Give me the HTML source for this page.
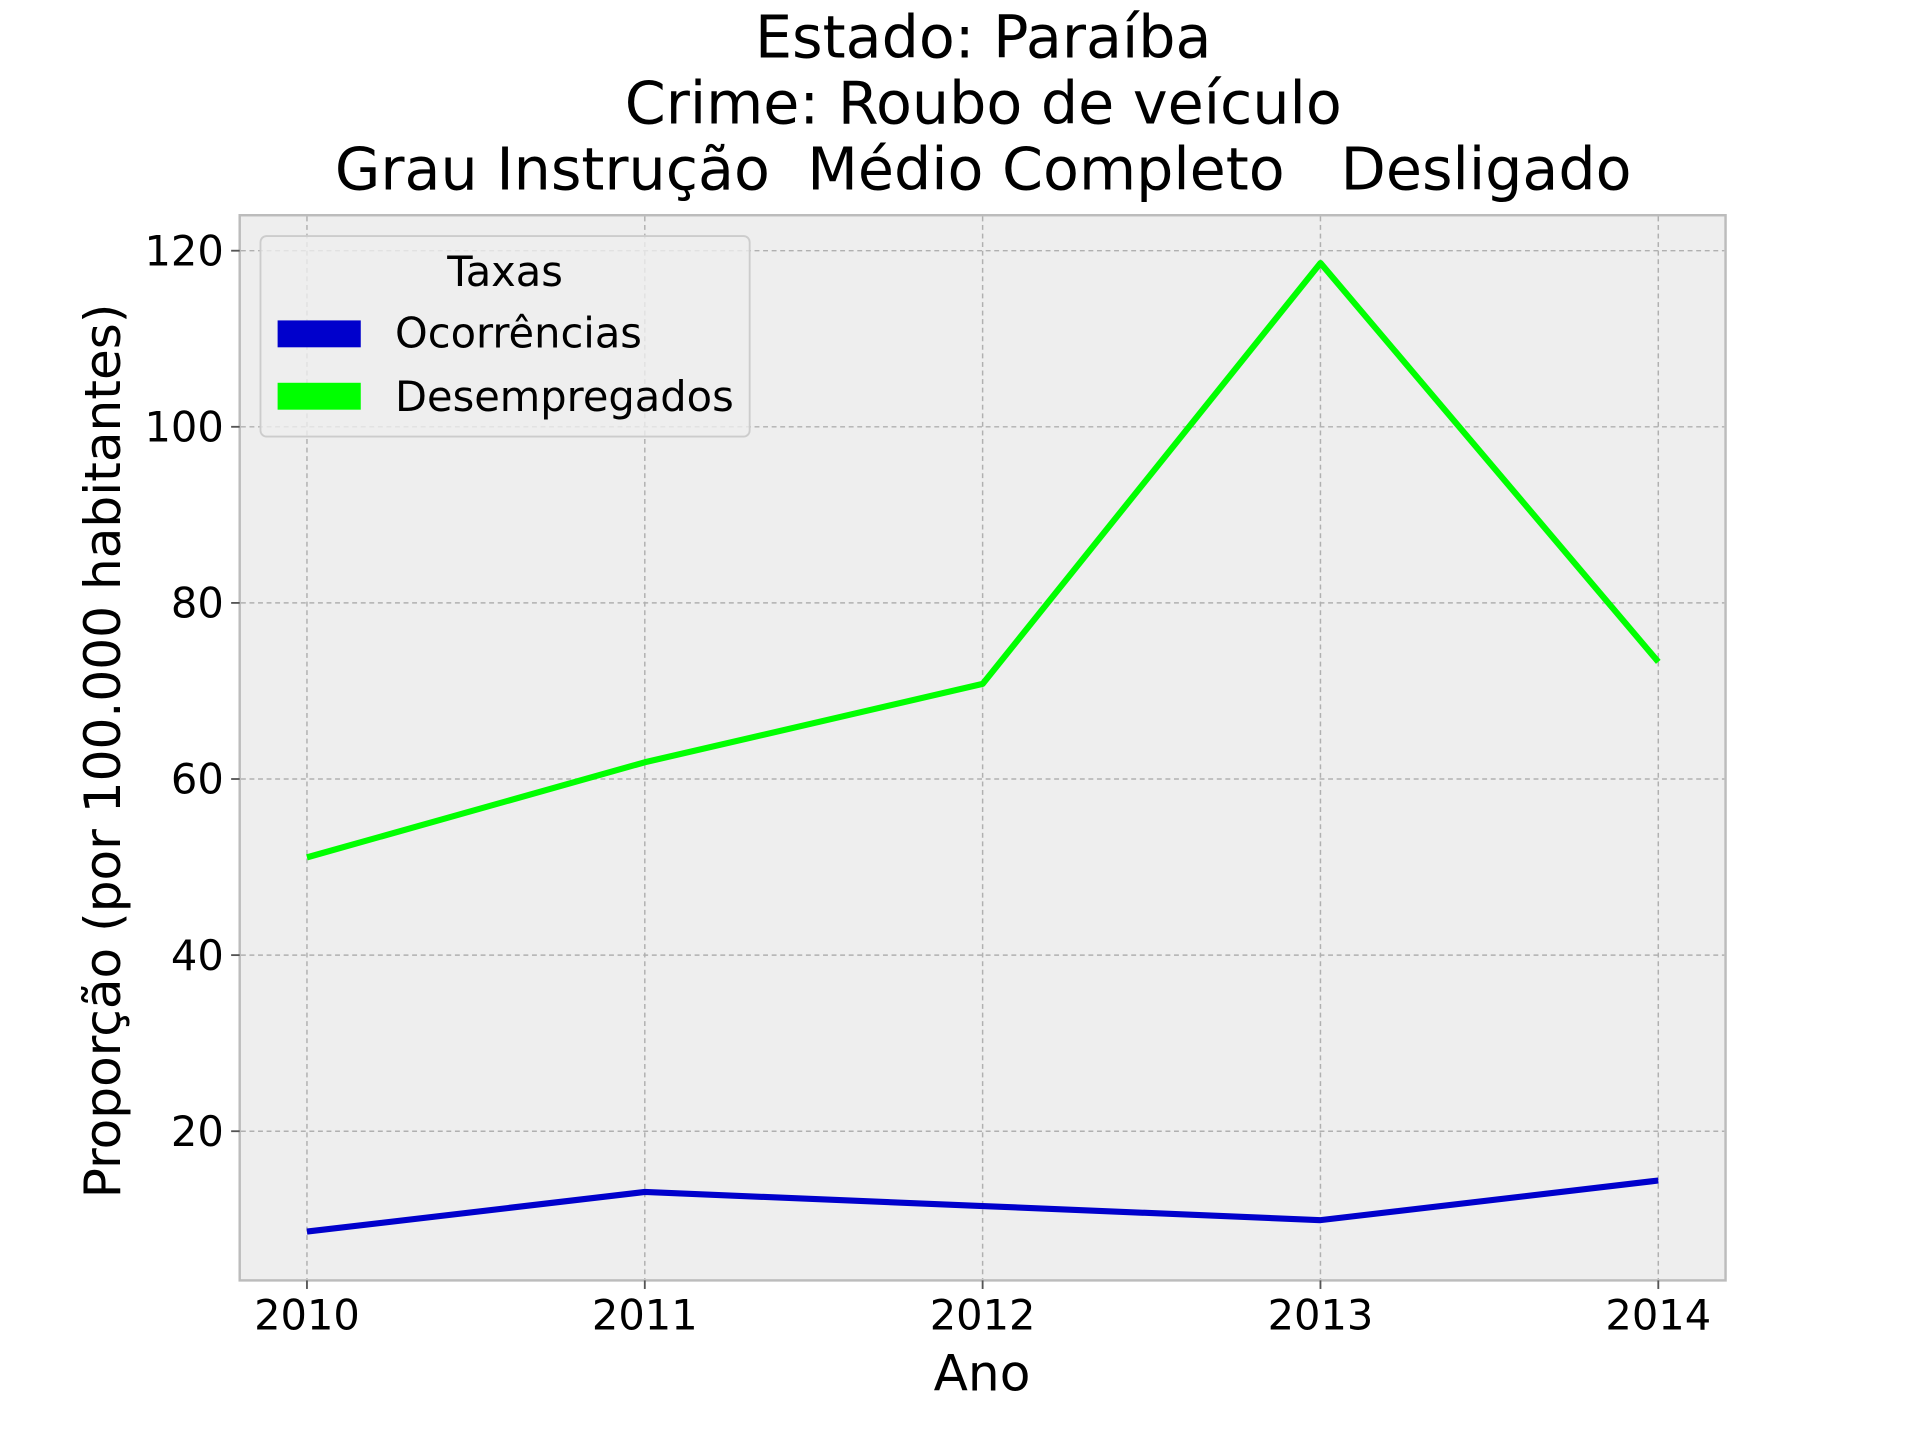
<!DOCTYPE html>
<html><head><meta charset="utf-8"><style>
html,body{margin:0;padding:0;background:#fff}
svg{display:block}
text{font-family:"DejaVu Sans","Liberation Sans",sans-serif;fill:#000;white-space:pre}
</style></head><body>
<svg width="1920" height="1440" viewBox="0 0 1570 1177.5" xmlns="http://www.w3.org/2000/svg">
<rect width="1570" height="1178" fill="#fff"/>
<g font-size="48" text-anchor="middle">
<text x="804" y="47">Estado: Paraíba</text>
<text x="804" y="101">Crime: Roubo de veículo</text>
<text x="804" y="155" xml:space="preserve">Grau Instrução  Médio Completo   Desligado</text>
</g>
<rect x="196" y="176" width="1215" height="871" fill="#eeeeee" stroke="#bcbcbc" stroke-width="2"/>
<g id="grid"></g>
<g id="ticks"></g>
<g id="series"></g>
<text x="803" y="1137" font-size="41" text-anchor="middle">Ano</text>
<text transform="translate(98,614) rotate(-90)" font-size="41" text-anchor="middle">Proporção (por 100.000 habitantes)</text>
<g>
<rect x="213" y="193" width="400" height="164" rx="5" fill="#eeeeee" fill-opacity="0.8" stroke="#cccccc" stroke-width="1.5"/>
<text x="413" y="234" font-size="34" text-anchor="middle">Taxas</text>
<rect x="227" y="262" width="68" height="22" fill="#0000cc"/>
<text x="323" y="284" font-size="34">Ocorrências</text>
<rect x="227" y="313" width="68" height="22" fill="#00ff00"/>
<text x="323" y="336" font-size="34">Desempregados</text>
</g>
</svg>
<script>
const years = [2010, 2011, 2012, 2013, 2014];
const ocorrencias = [8.6, 13.1, 11.5, 9.9, 14.4];
const desempregados = [51.1, 61.9, 70.8, 118.6, 73.3];
const yTicks = [20, 40, 60, 80, 100, 120];
const NS = "http://www.w3.org/2000/svg";
function xs(y){return 251 + (y-2010)*276.25;}
function ys(v){return 1069 - v*7.2;}
const grid=document.getElementById('grid'), ticks=document.getElementById('ticks'), series=document.getElementById('series');
function mk(tag,attrs,parent){const e=document.createElementNS(NS,tag);for(const k in attrs)e.setAttribute(k,attrs[k]);parent.appendChild(e);return e;}
years.forEach(y=>{
  const l=mk('line',{x1:xs(y),x2:xs(y),y1:177,y2:1046,stroke:'#b0b0b0','stroke-width':1.2,'stroke-dasharray':'4,3'},grid);
  
  
  const t=mk('line',{x1:xs(y),x2:xs(y),y1:1047,y2:1054,stroke:'#555','stroke-width':1.5},ticks);
  
  
  const tx=mk('text',{x:xs(y),y:1087,'font-size':34,'text-anchor':'middle'},ticks);
  tx.textContent=y;
  
  
});
yTicks.forEach(v=>{
  const l=mk('line',{x1:197,x2:1410,y1:ys(v),y2:ys(v),stroke:'#b0b0b0','stroke-width':1.2,'stroke-dasharray':'4,3'},grid);
  
  
  const t=mk('line',{x1:189,x2:196,y1:ys(v),y2:ys(v),stroke:'#555','stroke-width':1.5},ticks);
  
  
  const tx=mk('text',{x:183,y:ys(v)+12,'font-size':34,'text-anchor':'end'},ticks);
  tx.textContent=v;
  
  
});
function line(vals,color,name){
  const p=mk('polyline',{points:vals.map((v,i)=>xs(years[i])+','+ys(v)).join(' '),fill:'none',stroke:color,'stroke-width':5,'stroke-linejoin':'round'},series);
  
  
}
line(ocorrencias,'#0000cc','line-ocorrencias');
line(desempregados,'#00ff00','line-desempregados');
</script>
</body></html>
